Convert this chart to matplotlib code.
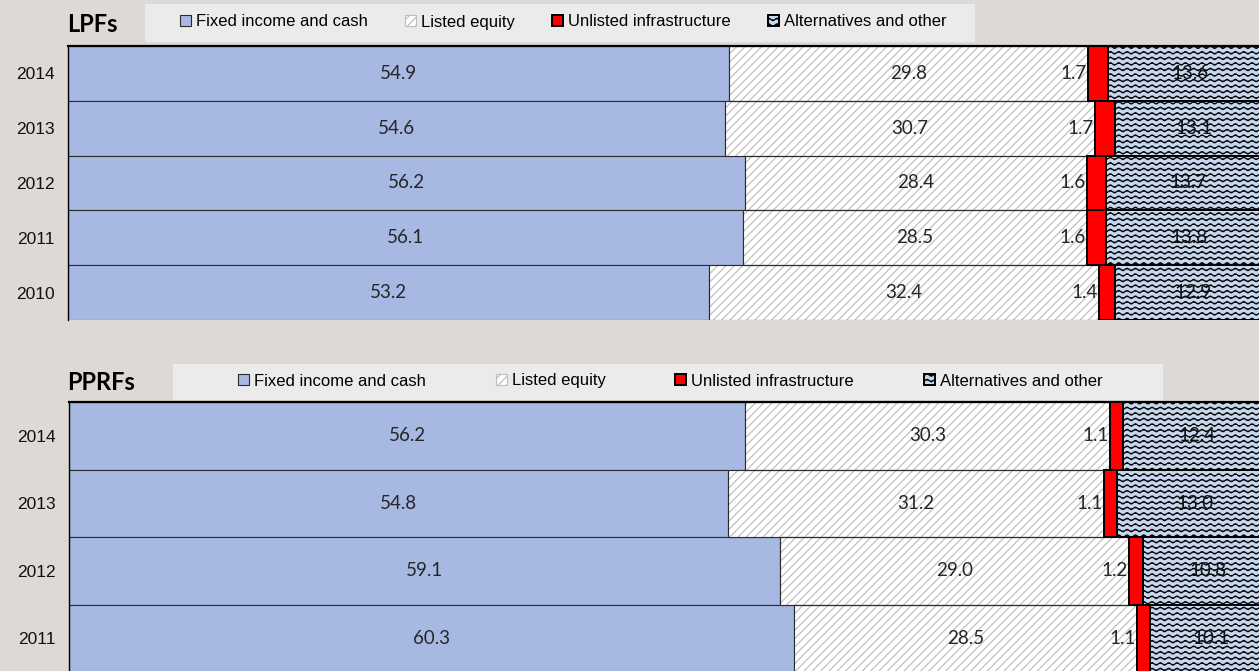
import warnings

import numpy as np
import matplotlib
matplotlib.use("Agg")
import matplotlib.pyplot as plt
import matplotlib.hatch as mhatch
from matplotlib.path import Path
from matplotlib.patches import Rectangle

# asset allocation, % of total portfolio
series_names = ["Fixed income and cash", "Listed equity",
                "Unlisted infrastructure", "Alternatives and other"]

lpf_years = ["2014", "2013", "2012", "2011", "2010"]
lpf_fixed = [54.9, 54.6, 56.2, 56.1, 53.2]
lpf_equity = [29.8, 30.7, 28.4, 28.5, 32.4]
lpf_infra = [1.7, 1.7, 1.6, 1.6, 1.4]
lpf_alt = [13.6, 13.1, 13.7, 13.8, 12.9]

pprf_years = ["2014", "2013", "2012", "2011"]
pprf_fixed = [56.2, 54.8, 59.1, 60.3]
pprf_equity = [30.3, 31.2, 29.0, 28.5]
pprf_infra = [1.1, 1.1, 1.2, 1.1]
pprf_alt = [12.4, 13.0, 10.8, 10.1]

W, H = 1259, 671
BG = "#dddad5"
LEGEND_BG = "#ebebeb"
FIXED_BLUE = "#a7b8e2"
EQUITY_HATCH = "#bdbdbd"
INFRA_RED = "#ff0000"
ALT_BLUE = "#c6d7ee"
LABEL_COLOR = "#262626"


class WaveHatch(mhatch.HatchPatternBase):
    """Rows of small sine waves, picked with '~' in a hatch string."""

    def __init__(self, hatch, density):
        self.num_rows = hatch.count("~") * density
        self.num_periods = 12
        self.pts = self.num_periods * 8 + 1
        self.num_vertices = self.num_rows * self.pts

    def set_vertices_and_codes(self, vertices, codes):
        t = np.linspace(0.0, 1.0, self.pts)
        wave = 0.012 * np.sin(2 * np.pi * self.num_periods * t)
        for i in range(self.num_rows):
            rows = slice(i * self.pts, (i + 1) * self.pts)
            vertices[rows, 0] = t
            vertices[rows, 1] = (i + 0.5) / self.num_rows + wave
            codes[rows] = Path.LINETO
            codes[i * self.pts] = Path.MOVETO


mhatch._hatch_types.append(WaveHatch)
warnings.filterwarnings("ignore", category=matplotlib.MatplotlibDeprecationWarning)

plt.rcParams["font.family"] = ["Liberation Sans", "DejaVu Sans"]
plt.rcParams["hatch.linewidth"] = 0.85


def draw_panel(ax, years, fixed, equity, infra, alt):
    y = np.arange(len(years))
    fixed = np.array(fixed)
    equity = np.array(equity)
    infra = np.array(infra)
    alt = np.array(alt)
    left_infra = fixed + equity
    left_alt = left_infra + infra

    h_fixed = ax.barh(y, fixed, height=1.0, color=FIXED_BLUE,
                      edgecolor="#2b2b2b", linewidth=0.8)
    h_equity = ax.barh(y, equity, left=fixed, height=1.0, color="white",
                       hatch="////", edgecolor=EQUITY_HATCH, linewidth=0.8)
    # dark row outlines over the grey hatch
    ax.barh(y, equity, left=fixed, height=1.0, fill=False,
            edgecolor="#2b2b2b", linewidth=0.8)
    h_infra = ax.barh(y, infra, left=left_infra, height=1.0, color=INFRA_RED,
                      edgecolor="black", linewidth=1.4)
    h_alt = ax.barh(y, alt, left=left_alt, height=1.0, color=ALT_BLUE,
                    hatch="~~~", edgecolor="black", linewidth=1.4)

    lbl = dict(va="center", fontsize=13.5, color=LABEL_COLOR,
               family=["Lato", "DejaVu Sans"], zorder=5)
    for i in y:
        ax.text(fixed[i] / 2, i, f"{fixed[i]:.1f}", ha="center", **lbl)
        ax.text(fixed[i] + equity[i] / 2, i, f"{equity[i]:.1f}", ha="center", **lbl)
        ax.text(left_infra[i] - 0.1, i, f"{infra[i]:.1f}", ha="right", **lbl)
        ax.text(left_alt[i] + alt[i] / 2, i, f"{alt[i]:.1f}", ha="center",
                **{**lbl, "color": "#111111"})

    ax.set_xlim(0, 100)
    ax.set_ylim(len(years) - 0.5, -0.5)
    ax.set_yticks(y, years)
    ax.set_xticks([])
    ax.tick_params(axis="y", length=0, pad=9.5, labelsize=12.5, labelcolor="#111111")
    ax.spines["right"].set_visible(False)
    ax.spines["bottom"].set_visible(False)
    ax.spines["top"].set_linewidth(1.6)
    ax.spines["left"].set_linewidth(1.0)
    for s in ax.spines.values():
        s.set_zorder(6)
    return [h_fixed, h_equity, h_infra, h_alt]


def add_legend(fig, handles, title, box, marker_x, center_y, colspacing):
    x0, y0, x1, y1 = box
    fig.add_artist(Rectangle((x0 / W, 1 - y1 / H), (x1 - x0) / W, (y1 - y0) / H,
                             transform=fig.transFigure, facecolor=LEGEND_BG,
                             edgecolor="none", zorder=0))
    fig.legend(handles, series_names, loc="center left",
               bbox_to_anchor=(marker_x / W, 1 - center_y / H),
               ncol=4, frameon=False, borderpad=0, borderaxespad=0,
               handlelength=0.65, handleheight=0.65, handletextpad=0.3,
               columnspacing=colspacing, fontsize=12)
    fig.text(67 / W, 1 - (center_y + 2) / H, title, ha="left", va="center",
             fontsize=17, fontweight="bold", family=["Lato", "DejaVu Sans"])


fig = plt.figure(figsize=(W / 100, H / 100), dpi=100, facecolor=BG)

# the bars run past the right edge of the figure, as in the printed layout
ax_lpf = fig.add_axes([68 / W, 1 - 320 / H, 1204 / W, 274 / H])
ax_pprf = fig.add_axes([69 / W, 1 - 672 / H, 1203 / W, 270 / H])

lpf_handles = draw_panel(ax_lpf, lpf_years, lpf_fixed, lpf_equity, lpf_infra, lpf_alt)
pprf_handles = draw_panel(ax_pprf, pprf_years, pprf_fixed, pprf_equity, pprf_infra, pprf_alt)

add_legend(fig, lpf_handles, "LPFs", (145, 4, 975, 42), 180, 22, 2.25)
add_legend(fig, pprf_handles, "PPRFs", (173, 364, 1163, 400), 238, 381, 4.2)

fig.savefig("out.png", dpi=100, facecolor=BG)
